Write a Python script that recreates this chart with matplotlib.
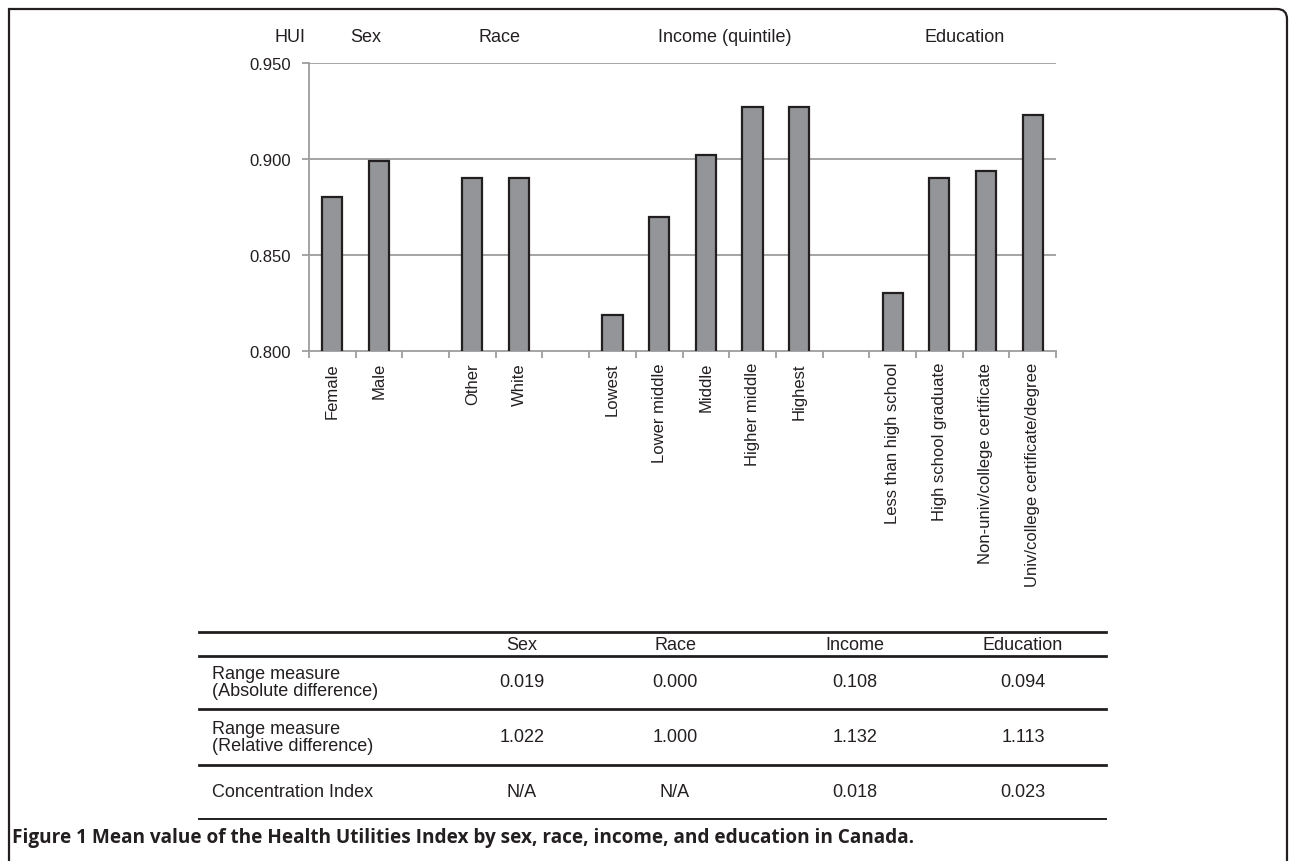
import matplotlib
matplotlib.use("Agg")
import matplotlib.pyplot as plt
from matplotlib.path import Path
from matplotlib.patches import PathPatch
from matplotlib.lines import Line2D
import numpy as np

# ---------------- data ----------------
categories = ["Female", "Male", "", "Other", "White", "",
              "Lowest", "Lower middle", "Middle", "Higher middle", "Highest", "",
              "Less than high school", "High school graduate",
              "Non-univ/college certificate", "Univ/college certificate/degree"]
hui_values = [0.880, 0.899, np.nan, 0.890, 0.890, np.nan,
              0.819, 0.870, 0.902, 0.927, 0.927, np.nan,
              0.830, 0.890, 0.894, 0.923]
group_labels = ["Sex", "Race", "Income (quintile)", "Education"]
y_ticks = [0.800, 0.850, 0.900, 0.950]

table_cols = ["Sex", "Race", "Income", "Education"]
table_rows = ["Range measure\n(Absolute difference)",
              "Range measure\n(Relative difference)",
              "Concentration Index"]
abs_diff = ["0.019", "0.000", "0.108", "0.094"]
rel_diff = ["1.022", "1.000", "1.132", "1.113"]
conc_index = ["N/A", "N/A", "0.018", "0.023"]
caption_bold = "Figure 1 Mean value of the Health Utilities Index by sex, race, income, and education in Canada."

# ---------------- figure ----------------
W, H = 1290, 862
fig = plt.figure(figsize=(W / 100, H / 100), dpi=100)
plt.rcParams['font.family'] = ['Liberation Sans', 'DejaVu Sans']

def fx(px):
    return px / W

def fy(py):
    return 1 - py / H

GRID = "#9d9d9d"
BAR = "#939598"
EDGE = "#231f20"
TXT = "#231f20"

ax_l, ax_r, ax_t, ax_b = 309, 1056, 64, 352
ax = fig.add_axes([fx(ax_l), fy(ax_b), fx(ax_r) - fx(ax_l), fy(ax_t) - fy(ax_b)])

x = np.arange(len(categories))
ax.bar(x, hui_values, width=0.43, color=BAR, edgecolor=EDGE, linewidth=1.6, zorder=3)
ax.set_xlim(-0.5, len(categories) - 0.5)
ax.set_ylim(y_ticks[0], y_ticks[-1])
ax.set_yticks(y_ticks)
ax.set_yticklabels([f"{v:.3f}" for v in y_ticks], fontsize=12, color=TXT)
for v in y_ticks[1:]:
    ax.axhline(v, color=GRID, lw=1.3, zorder=1)

ax.set_xticks(x)
ax.set_xticklabels(categories, rotation=90, fontsize=12, color=TXT, va="top")
ax.tick_params(axis="x", length=0, pad=8)
ax.set_xticks(np.arange(-0.5, len(categories)), minor=True)
ax.tick_params(axis="x", which="minor", length=5, color=GRID, width=1.3)
ax.tick_params(axis="y", length=5, color=GRID, width=1.3, pad=8)

for s in ["top", "right"]:
    ax.spines[s].set_visible(False)
for s in ["left", "bottom"]:
    ax.spines[s].set_color(GRID)
    ax.spines[s].set_linewidth(1.3)

# group headers
fig.text(fx(305), fy(37), "HUI", ha="right", va="center", fontsize=13, color=TXT)
for lab, cx in zip(group_labels, [366, 499, 725, 965]):
    fig.text(fx(cx), fy(37), lab, ha="center", va="center", fontsize=13, color=TXT)

# ---------------- table ----------------
t_l, t_r = 199, 1106
col_x = [522, 675, 855, 1023]
for yy, lw in [(633, 2.0), (657, 2.0), (710, 2.0), (766, 2.0), (820, 1.4)]:
    fig.add_artist(Line2D([fx(t_l), fx(t_r)], [fy(yy), fy(yy)], color=EDGE, lw=lw))
for c, cx in zip(table_cols, col_x):
    fig.text(fx(cx), fy(646), c, ha="center", va="center", fontsize=13, color=TXT)
row_y = [683, 738, 793]
for r, ry, vals in zip(table_rows, row_y, [abs_diff, rel_diff, conc_index]):
    fig.text(fx(212), fy(ry), r, ha="left", va="center", fontsize=13, color=TXT,
             linespacing=1.05)
    for v, cx in zip(vals, col_x):
        fig.text(fx(cx), fy(ry), v, ha="center", va="center", fontsize=13, color=TXT)

# caption
fig.text(fx(12), fy(838), caption_bold, ha="left", va="center", fontsize=13.7,
         fontweight="bold", family=["Open Sans", "DejaVu Sans"], color=TXT)

# frame (open at the bottom, rounded top-right corner)
r = 10
verts = [(fx(9), fy(862)), (fx(9), fy(10)), (fx(1287 - r), fy(10)),
         (fx(1287), fy(10)), (fx(1287), fy(10 + r)), (fx(1287), fy(862))]
codes = [Path.MOVETO, Path.LINETO, Path.LINETO, Path.CURVE3, Path.CURVE3, Path.LINETO]
fig.add_artist(PathPatch(Path(verts, codes), transform=fig.transFigure,
                         fill=False, edgecolor=EDGE, lw=1.6))

fig.savefig("out.png", dpi=100, facecolor="white")
